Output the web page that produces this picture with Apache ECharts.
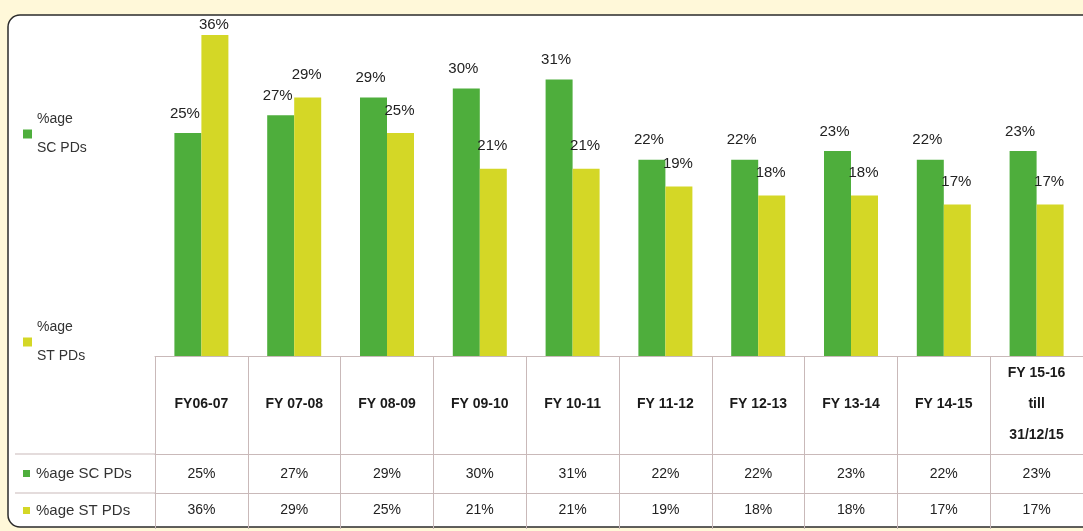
<!DOCTYPE html>
<html>
<head>
<meta charset="utf-8">
<script src="https://cdn.jsdelivr.net/npm/echarts@6/dist/echarts.min.js"></script>
<style>
	html, body { margin: 0; padding: 0; background: #FFF8D9; }
	#main { width: 1083px; height: 531px; }
</style>
</head>
<body>
<div id="main"></div>
<script>
// data
var categories = ['FY06-07', 'FY 07-08', 'FY 08-09', 'FY 09-10', 'FY 10-11', 'FY 11-12', 'FY 12-13', 'FY 13-14', 'FY 14-15', 'FY 15-16\ntill\n31/12/15'];
var seriesNames = ['%age SC PDs', '%age ST PDs'];
var scValues = [25, 27, 29, 30, 31, 22, 22, 23, 22, 23];
var stValues = [36, 29, 25, 21, 21, 19, 18, 18, 17, 17];

var green = '#4EAE3C';
var yellow = '#D4D726';
var lineColor = '#C9B9B9';
var font = 'Liberation Sans';
var yMax = 36;

var chart = echarts.init(document.getElementById('main'));

function pct(v) { return v + '%'; }

// tallest bar sits at the top of the panel, so its label is pulled closer
var stData = stValues.map(function(v) {
	if (v >= yMax) {
		return { value: v, label: { distance: 3 } };
	}
	return v;
});

var option = {
	backgroundColor: '#FFF8D9',
	textStyle: { fontFamily: font },
	animation: false,
	graphic: [
		{ // white panel
			type: 'rect', z: -10, silent: true,
			shape: { x: 8, y: 15, width: 1110, height: 512, r: 12 },
			style: { fill: '#fff', stroke: '#2B2B2B', lineWidth: 1.5 }
		},
		{ type: 'line', z: 1, shape: { x1: 15, y1: 454, x2: 156, y2: 454 }, style: { stroke: lineColor, lineWidth: 1 } },
		{ type: 'line', z: 1, shape: { x1: 15, y1: 493, x2: 156, y2: 493 }, style: { stroke: lineColor, lineWidth: 1 } },
		{ type: 'rect', shape: { x: 23, y: 470, width: 7, height: 7 }, style: { fill: green } },
		{ type: 'text', x: 36, y: 474, style: { text: seriesNames[0], fill: '#333', font: '15px ' + font, verticalAlign: 'middle' } },
		{ type: 'rect', shape: { x: 23, y: 507, width: 7, height: 7 }, style: { fill: yellow } },
		{ type: 'text', x: 36, y: 511, style: { text: seriesNames[1], fill: '#333', font: '15px ' + font, verticalAlign: 'middle' } }
	],
	legend: {
		orient: 'vertical',
		left: 18,
		top: 100,
		itemWidth: 9,
		itemHeight: 9,
		itemGap: 150,
		icon: 'rect',
		data: seriesNames,
		formatter: function(name) {
			return name.replace(' ', '\n');
		},
		textStyle: { fontSize: 14, color: '#333', lineHeight: 29 }
	},
	grid: { left: 155, width: 937, top: 35, bottom: 175 },
	yAxis: { type: 'value', min: 0, max: yMax, show: false },
	xAxis: [
		{
			type: 'category',
			data: categories,
			position: 'bottom',
			axisLine: { show: true, lineStyle: { color: lineColor } },
			axisTick: { show: true, interval: 0, length: 98, lineStyle: { color: lineColor } },
			axisLabel: {
				interval: 0, margin: 48, verticalAlign: 'middle',
				color: '#1a1a1a', fontSize: 14, fontWeight: 'bold', lineHeight: 31
			}
		},
		{
			type: 'category',
			data: scValues,
			position: 'bottom',
			offset: 98,
			axisLine: { show: true, lineStyle: { color: lineColor } },
			axisTick: { show: true, interval: 0, length: 39, lineStyle: { color: lineColor } },
			axisLabel: { interval: 0, margin: 20, verticalAlign: 'middle', color: '#222', fontSize: 14, formatter: pct }
		},
		{
			type: 'category',
			data: stValues,
			position: 'bottom',
			offset: 137,
			axisLine: { show: true, lineStyle: { color: lineColor } },
			axisTick: { show: true, interval: 0, length: 36, lineStyle: { color: lineColor } },
			axisLabel: { interval: 0, margin: 17, verticalAlign: 'middle', color: '#222', fontSize: 14, formatter: pct }
		}
	],
	series: [
		{
			name: seriesNames[0],
			type: 'bar',
			xAxisIndex: 0,
			data: scValues,
			barWidth: 27,
			barGap: '0%',
			itemStyle: { color: green },
			label: { show: true, position: 'top', distance: 12, offset: [-3, 0], color: '#222', fontSize: 15, formatter: '{c}%' }
		},
		{
			name: seriesNames[1],
			type: 'bar',
			xAxisIndex: 0,
			data: stData,
			barWidth: 27,
			barGap: '0%',
			itemStyle: { color: yellow },
			label: { show: true, position: 'top', distance: 15, offset: [-1, 0], color: '#222', fontSize: 15, formatter: '{c}%' }
		}
	]
};

chart.setOption(option);
</script>
</body>
</html>
